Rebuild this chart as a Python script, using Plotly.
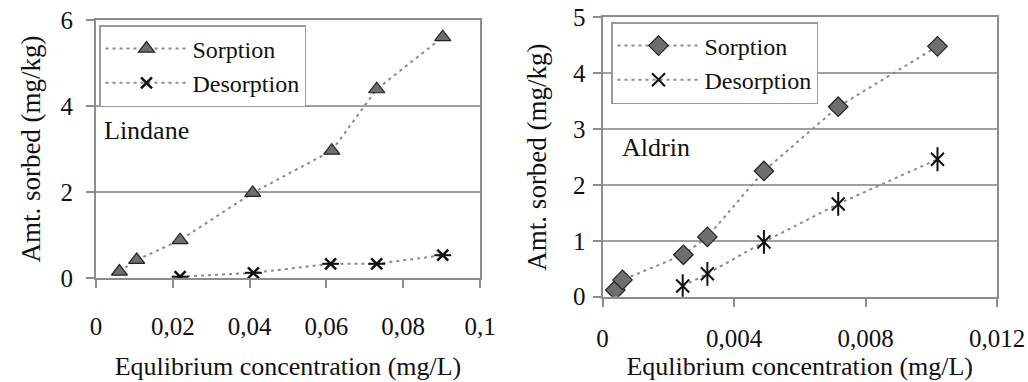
import plotly.graph_objects as go

# ---- data ----
lin_sorp_x = [0.0061, 0.0106, 0.0219, 0.0408, 0.0614, 0.0731, 0.0903]
lin_sorp_y = [0.15, 0.42, 0.88, 1.98, 2.96, 4.39, 5.60]
lin_des_x = [0.0219, 0.0410, 0.0611, 0.0731, 0.0903]
lin_des_y = [0.03, 0.12, 0.33, 0.33, 0.53]

ald_sorp_x = [0.00039, 0.00061, 0.00246, 0.00319, 0.00491, 0.00717, 0.01019]
ald_sorp_y = [0.12, 0.30, 0.75, 1.07, 2.25, 3.40, 4.48]
ald_des_x = [0.00244, 0.00319, 0.00491, 0.00717, 0.01019]
ald_des_y = [0.19, 0.41, 0.98, 1.66, 2.46]

FONT = '"Liberation Serif", "Times New Roman", Times, serif'
LINE = dict(color="#8a8a8a", width=2, dash="3px,4px")
FILL = "#6e6e6e"

fig = go.Figure()

# Left panel (Lindane)
fig.add_trace(go.Scatter(x=lin_sorp_x, y=lin_sorp_y, mode="lines+markers", name="Sorption",
                         line=LINE, legend="legend",
                         marker=dict(symbol="triangle-up", size=14, color=FILL,
                                     line=dict(color="#222", width=1.2)),
                         xaxis="x", yaxis="y"))
fig.add_trace(go.Scatter(x=lin_des_x, y=lin_des_y, mode="lines+markers", name="Desorption",
                         line=LINE, legend="legend",
                         marker=dict(symbol="x-thin-open", size=11, color="#111",
                                     line=dict(color="#111", width=2.5)),
                         xaxis="x", yaxis="y", legendgroup="ld"))
fig.add_trace(go.Scatter(x=lin_des_x, y=lin_des_y, mode="markers", showlegend=False,
                         marker=dict(symbol="line-ew-open", size=12, color="#111",
                                     line=dict(color="#111", width=2)),
                         xaxis="x", yaxis="y", legendgroup="ld", hoverinfo="skip"))

# Right panel (Aldrin)
fig.add_trace(go.Scatter(x=ald_sorp_x, y=ald_sorp_y, mode="lines+markers", name="Sorption",
                         line=LINE, legend="legend2",
                         marker=dict(symbol="diamond", size=15, color=FILL,
                                     line=dict(color="#222", width=1.2)),
                         xaxis="x2", yaxis="y2"))
fig.add_trace(go.Scatter(x=ald_des_x, y=ald_des_y, mode="lines+markers", name="Desorption",
                         line=LINE, legend="legend2",
                         marker=dict(symbol="x-thin-open", size=13, color="#111",
                                     line=dict(color="#111", width=2)),
                         xaxis="x2", yaxis="y2", legendgroup="ad"))
fig.add_trace(go.Scatter(x=ald_des_x, y=ald_des_y, mode="markers", showlegend=False,
                         marker=dict(symbol="line-ns-open", size=17, color="#111",
                                     line=dict(color="#111", width=2)),
                         xaxis="x2", yaxis="y2", legendgroup="ad", hoverinfo="skip"))

W, H = 1028, 382
axis_common = dict(showline=True, mirror=True, linecolor="#8c8c8c", linewidth=2,
                   ticks="outside", ticklen=8, tickcolor="#8c8c8c", tickwidth=1.5,
                   automargin=False,
                   tickfont=dict(family=FONT, size=25, color="#111"))

fig.update_layout(
    template="none",
    width=W, height=H, margin=dict(l=0, r=0, t=0, b=0),
    paper_bgcolor="white", plot_bgcolor="white",
    separators=", ",
    font=dict(family=FONT, size=25, color="#111"),
    xaxis=dict(domain=[96 / W, 480 / W], anchor="y", range=[0, 0.1], dtick=0.02,
               showgrid=False, zeroline=False, ticklabelstandoff=17,
               title=dict(text="Equlibrium concentration (mg/L)", standoff=18,
                          font=dict(family=FONT, size=26, color="#111")),
               **axis_common),
    yaxis=dict(domain=[(H - 278) / H, (H - 20) / H], anchor="x", range=[0, 6], dtick=2,
               showgrid=True, gridcolor="#a0a0a0", gridwidth=1.5,
               zeroline=True, zerolinecolor="#3c3c3c", zerolinewidth=2.5,
               ticklabelstandoff=8,
               title=dict(text="Amt. sorbed (mg/kg)", standoff=12,
                          font=dict(family=FONT, size=27, color="#111")),
               **axis_common),
    xaxis2=dict(domain=[602.5 / W, 997 / W], anchor="y2", range=[0, 0.012], dtick=0.004,
                showgrid=False, zeroline=False, ticklabelstandoff=10,
                title=dict(text="Equlibrium concentration (mg/L)", standoff=0,
                           font=dict(family=FONT, size=26, color="#111")),
                **axis_common),
    yaxis2=dict(domain=[(H - 296.7) / H, (H - 17.3) / H], anchor="x2", range=[0, 5], dtick=1,
                showgrid=True, gridcolor="#a0a0a0", gridwidth=1.5,
                zeroline=True, zerolinecolor="#3c3c3c", zerolinewidth=2.5,
                ticklabelstandoff=2,
                title=dict(text="Amt. sorbed (mg/kg)", standoff=19,
                           font=dict(family=FONT, size=27, color="#111")),
                **axis_common),
    legend=dict(x=99 / W, y=(H - 25) / H, xanchor="left", yanchor="top",
                bgcolor="white", bordercolor="#9a9a9a", borderwidth=1.5,
                font=dict(family=FONT, size=24, color="#111"), itemwidth=82,
                tracegroupgap=0),
    legend2=dict(x=611 / W, y=(H - 22) / H, xanchor="left", yanchor="top",
                 bgcolor="white", bordercolor="#9a9a9a", borderwidth=1.5,
                 font=dict(family=FONT, size=24, color="#111"), itemwidth=82,
                 tracegroupgap=0),
    annotations=[
        dict(text="Lindane", xref="paper", yref="paper", x=102 / W, y=(H - 130) / H,
             xanchor="left", yanchor="middle", showarrow=False,
             font=dict(family=FONT, size=26, color="#111")),
        dict(text="Aldrin", xref="paper", yref="paper", x=620 / W, y=(H - 147) / H,
             xanchor="left", yanchor="middle", showarrow=False,
             font=dict(family=FONT, size=26, color="#111")),
    ],
)

fig.write_html("out.html", config={"displayModeBar": False},
               post_script="document.body.style.margin='0';")
